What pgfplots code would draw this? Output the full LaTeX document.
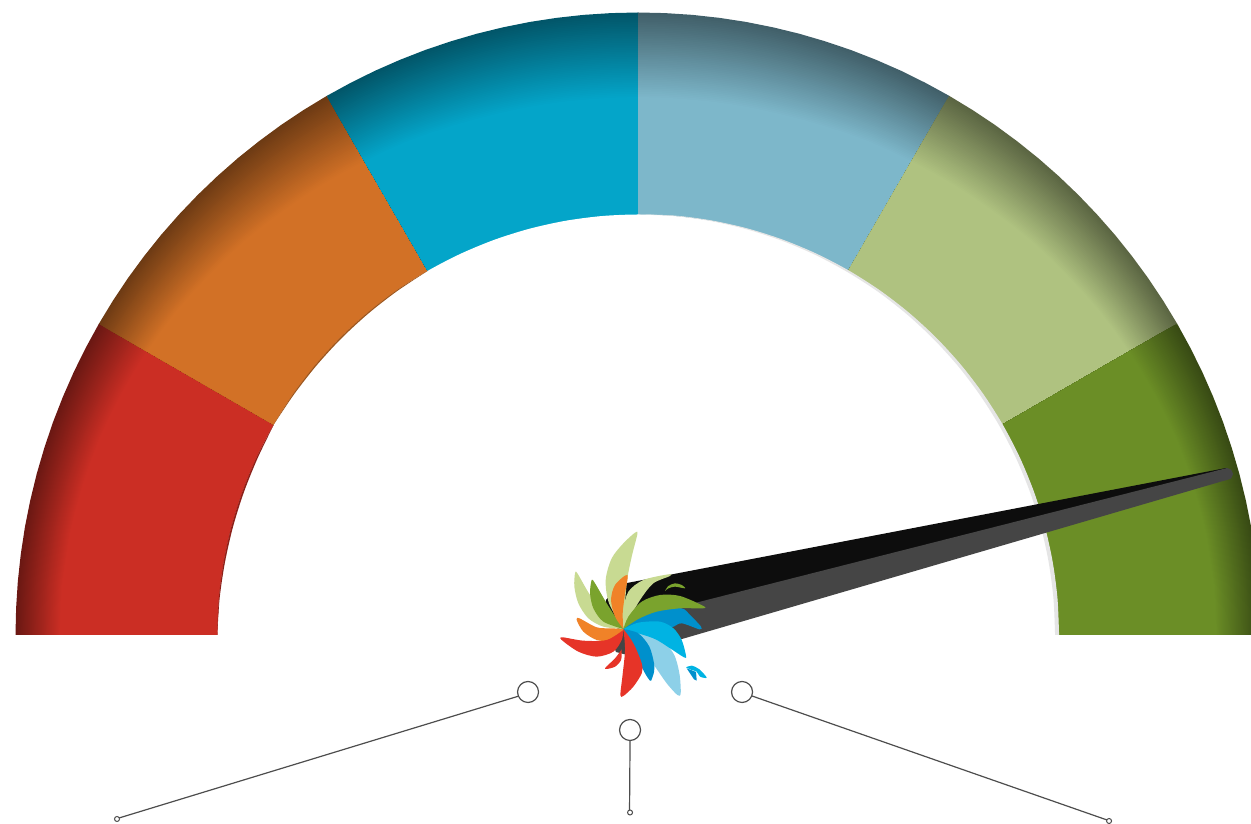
\documentclass[border=0pt]{standalone}
\usepackage{pgfplots}
\usepackage{pgfplotstable}
\pgfplotsset{compat=1.18}

\definecolor{gaugeRed}{RGB}{203,46,36}
\definecolor{gaugeOrange}{RGB}{210,113,38}
\definecolor{gaugeBlue}{RGB}{4,165,201}
\definecolor{gaugeSky}{RGB}{125,183,202}
\definecolor{gaugeLime}{RGB}{175,194,128}
\definecolor{gaugeGreen}{RGB}{107,142,38}
\definecolor{petalPale}{RGB}{200,218,146}
\definecolor{petalOlive}{RGB}{122,163,45}
\definecolor{petalOrange}{RGB}{240,130,40}
\definecolor{petalRed}{RGB}{230,52,40}
\definecolor{petalBlue}{RGB}{0,144,204}
\definecolor{petalCyan}{RGB}{0,179,227}
\definecolor{petalSky}{RGB}{141,208,232}
\definecolor{linkGrey}{RGB}{77,77,77}

% sector outlines: angle, radius where the dark rim starts, outer radius
\pgfplotstableread{
a rb R
90 0 0
90 538 622.5
92.5 538 622.5
95 538 622.5
97.5 538.5 622.5
100 539 622.5
102.5 539.5 622.5
105 540 622.5
107.5 541 622.5
110 542 622.5
112.5 543.5 622.5
115 545 622.5
117.5 546 622.5
120 547 622.5
}\sectorC
\pgfplotstableread{
a rb R
120 0 0
120 547 622.5
122.5 548.5 622.5
125 550 622.5
127.5 551.5 622.5
130 553 622.5
132.5 555 622.5
135 557 622.5
137.5 558.5 622.5
140 560 622.5
142.5 562 622.5
145 564 622.5
147.5 565.5 622.5
150 567 622.5
}\sectorB
\pgfplotstableread{
a rb R
150 0 0
150 567 622.5
152.5 568.5 622.5
155 570 622.5
157.5 571.5 622.5
160 573 622.5
162.5 574 622.5
165 575 622.5
167.5 576 622.5
170 577 622.5
172.5 577 622.5
175 578 622.5
177.5 578 622.5
180 578 622.5
}\sectorA
\pgfplotstableread{
a rb R
60 0 0
60 547 622.5
62.5 546 622.5
65 545 622.5
67.5 543.5 622.5
70 542 622.5
72.5 541 622.5
75 540 622.5
77.5 539.5 622.5
80 539 622.5
82.5 538.5 622.5
85 538 622.5
87.5 538 622.5
90 538 622.5
}\sectorD
\pgfplotstableread{
a rb R
30 0 0
30 567 622.5
32.5 565.5 622.5
35 564 622.5
37.5 562 622.5
40 560 622.5
42.5 558.5 622.5
45 557 622.5
47.5 555 622.5
50 553 622.5
52.5 551.5 622.5
55 550 622.5
57.5 548.5 622.5
60 547 622.5
}\sectorE
\pgfplotstableread{
a rb R
0 0 0
0 578 622.5
2.5 578 622.5
5 578 622.5
7.5 577 622.5
10 577 622.5
12.5 576 622.5
15 575 622.5
17.5 574 622.5
20 573 622.5
22.5 571.5 622.5
25 570 622.5
27.5 568.5 622.5
30 567 622.5
}\sectorF

% one sector: stacked fills from the dark rim in to the plain colour
\newcommand\ringsector[2]{%
  \pgfplotsinvokeforeach{48,47,...,0}{%
    \addplot[data cs=polar, draw=none, fill=black!##1!#1, forget plot]
      table[x=a, y expr={\thisrow{rb}*(1-##1/48)+\thisrow{R}*##1/48}] {#2};
  }%
}

\begin{document}
\begin{tikzpicture}
\path[use as bounding box] (0,0) rectangle (1251pt,824pt);
\begin{axis}[
    at={(0,0)},
    anchor=south west,
    scale only axis,
    width=1251pt,
    height=824pt,
    xmin=-638, xmax=613,
    ymin=-189, ymax=635,
    axis lines=none,
    % px: picture pixels, zm: pixels of the 3x crop around the logo
    px/.style={x filter/.expression={x-638}, y filter/.expression={635-y}},
    zm/.style={x filter/.expression={x/3-98}, y filter/.expression={115-y/3}},
    petal/.style={zm, draw=none, fill=#1, smooth, tension=0.5, forget plot},
]
\ringsector{gaugeRed}{\sectorA}
\ringsector{gaugeOrange}{\sectorB}
\ringsector{gaugeBlue}{\sectorC}
\ringsector{gaugeSky}{\sectorD}
\ringsector{gaugeLime}{\sectorE}
\ringsector{gaugeGreen}{\sectorF}

% hole of the ring, a little under the base line so no fringe stays there
\addplot[data cs=polar, draw=none, fill=white, smooth, forget plot] coordinates {
  (-0.3,420.5) (5,420.5) (10,420.5) (15,420.5) (20,420.5) (25,420.5) (30,420.5) (35,420.5) (40,420.5)
  (45,420.5) (50,420.5) (55,420.5) (60,420.5) (65,420.5) (70,420.5) (75,420.5) (80,420.5) (85,420.5)
  (90,420.5) (95,420.5) (100,420.5) (105,420.5) (110,420.5) (115,420.5) (120,420.5) (125,420.5)
  (130,420.5) (135,420.5) (140,420.5) (145,420.5) (150,420.5) (155,420.5) (160,420.5) (165,420.5)
  (170,420.5) (175,420.5) (180.3,420.5)};

% soft edges inside the ring
\addplot[data cs=polar, draw=none, fill=black!10, smooth, forget plot] coordinates {
  (0,421) (5,421) (10,421) (15,421) (20,421) (25,421) (30,421) (35,421) (40,421) (45,421)
  (50,421) (55,421) (60,421) (65,421) (70,421) (75,421) (80,421) (85,421) (90,420.5)
  (85,420.5) (80,420.3) (75,420) (70,419.7) (65,419.4) (60,419) (55,418.8) (50,418.5) (45,418.2)
  (40,418) (35,417.7) (30,417.5) (25,417.3) (20,417.2) (15,417.1) (10,417) (5,417) (0,417)};
\addplot[data cs=polar, draw=none, fill=black!30!gaugeRed, smooth, forget plot] coordinates {
  (150,420.8) (155,420.8) (160,420.8) (165,420.8) (170,420.8) (175,420.8) (180,420.8)
  (175,420) (170,419.4) (165,419.2) (160,419.2) (155,419.5) (150,420.5)};
\addplot[data cs=polar, draw=none, fill=black!25!gaugeOrange, smooth, forget plot] coordinates {
  (120,420.8) (125,420.8) (130,420.8) (135,420.8) (140,420.8) (145,420.8) (150,420.8)
  (145,419.8) (140,419.5) (135,419.5) (130,419.6) (125,419.9) (120,420.5)};

% needle
\addplot[px, draw=none, fill=black!95, forget plot] coordinates {
  (627,583) (1226,468) (1230,472) (620,626) (604,615) (606,600) (616,588)};
\addplot[px, draw=none, fill=black!73, forget plot] coordinates {
  (620,622) (1227,468) (1231,469.5) (1233,474) (1231,478.5) (1227,480) (1223,481)
  (730,625) (627,655) (616,652) (612,642)};

% logo, drawn back to front
\addplot[petal=petalPale] coordinates {
  (250,327) (207,250) (197,180) (215,115) (250,70) (285,38) (292,42) (275,110) (260,190) (250,327)};
\addplot[petal=petalPale] coordinates {
  (250,327) (190,320) (145,295) (115,250) (103,200) (105,160) (112,160) (150,225) (195,280) (250,327)};
\addplot[petal=petalOlive] coordinates {
  (250,327) (190,305) (160,265) (150,220) (155,180) (165,190) (200,250) (250,327)};
\addplot[petal=petalOrange] coordinates {
  (250,327) (225,290) (213,240) (225,195) (262,165) (255,220) (248,280) (250,327)};
\addplot[petal=petalPale] coordinates {
  (250,327) (250,270) (265,215) (310,180) (385,163) (390,168) (340,190) (300,240) (250,327)};
\addplot[petal=petalSky] coordinates {
  (250,327) (300,325) (350,345) (400,400) (418,460) (422,520) (412,525) (380,490) (345,440) (300,380) (250,327)};
\addplot[petal=petalBlue] coordinates {
  (250,327) (290,285) (360,265) (425,265) (450,285) (483,320) (478,328) (425,310) (395,322) (350,325) (250,327)};
\addplot[petal=petalCyan] coordinates {
  (250,327) (295,308) (360,305) (400,325) (425,360) (438,408) (432,412) (390,385) (340,355) (250,327)};
\addplot[petal=petalOlive] coordinates {
  (250,327) (265,290) (305,245) (360,225) (420,228) (490,258) (488,265) (420,265) (350,275) (295,297) (250,327)};
\addplot[petal=petalBlue] coordinates {
  (250,327) (295,340) (328,380) (342,430) (342,455) (335,478) (330,482) (315,460) (285,400) (250,327)};
\addplot[petal=petalRed] coordinates {
  (250,327) (280,370) (305,430) (305,460) (280,500) (250,528) (241,525) (247,470) (255,390) (250,327)};
\addplot[petal=petalRed] coordinates {
  (245,388) (243,420) (225,440) (200,447) (196,443) (225,415) (245,388)};
\addplot[petal=petalOrange] coordinates {
  (250,327) (245,345) (215,362) (170,360) (130,335) (110,300) (118,295) (170,322) (215,325) (250,327)};
\addplot[petal=petalRed] coordinates {
  (250,330) (245,360) (220,395) (170,410) (115,395) (65,360) (68,352) (130,362) (200,360) (250,330)};
\addplot[petal=petalOlive] coordinates {
  (375,213) (385,198) (405,190) (425,195) (435,205) (405,200) (385,205) (375,213)};
\addplot[petal=petalCyan] coordinates {
  (438,442) (455,437) (478,448) (500,473) (480,470) (470,455) (455,450) (438,442)};
\addplot[zm, draw=none, fill=petalBlue, forget plot] coordinates {
  (440,445) (468,456) (470,482) (462,478)};

% connectors
\addplot[px, linkGrey, line width=1.2pt, forget plot] coordinates {(519,696) (119,818)};
\addplot[px, linkGrey, line width=1.2pt, forget plot] coordinates {(630,741) (629.5,810)};
\addplot[px, linkGrey, line width=1.2pt, forget plot] coordinates {(752,696) (1107,820)};
\addplot[px, only marks, mark=*, mark size=10.5pt,
  mark options={fill=white, draw=linkGrey, line width=1.2pt}, forget plot]
  coordinates {(528,692) (630,730) (742,692)};
\addplot[px, only marks, mark=*, mark size=2.5pt,
  mark options={fill=white, draw=linkGrey, line width=1pt}, forget plot]
  coordinates {(117,819) (630,812.5) (1109,821)};
\end{axis}
\end{tikzpicture}
\end{document}
